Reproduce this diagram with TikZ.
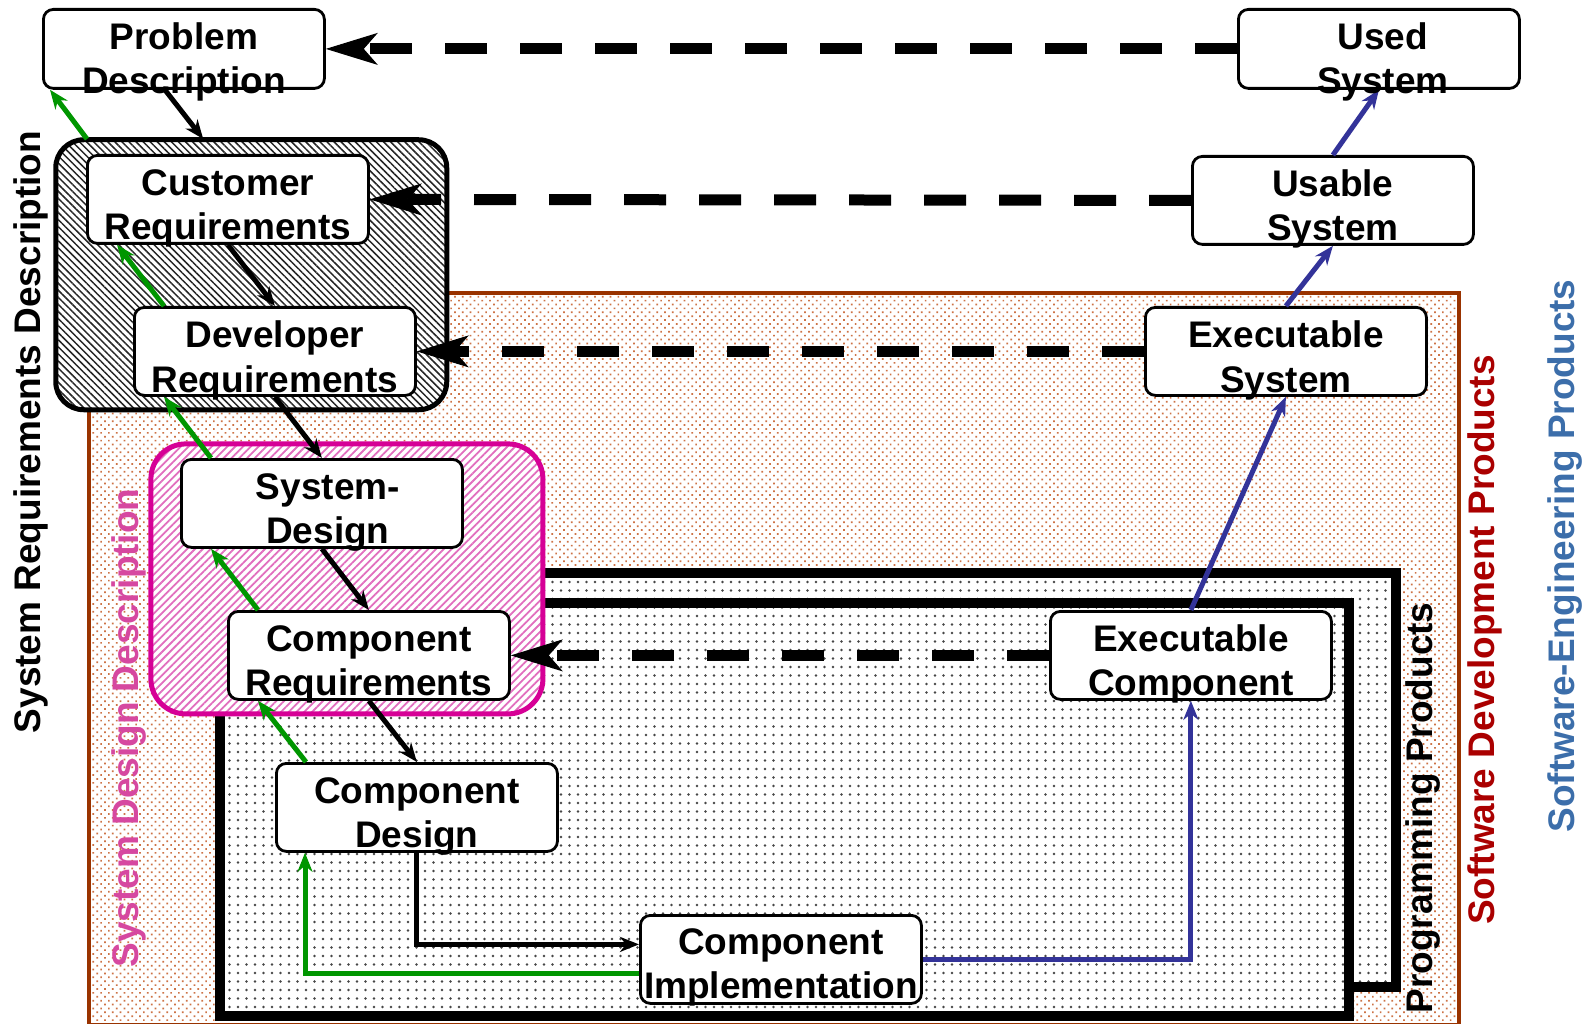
\documentclass[tikz,border=0pt]{standalone}
\usepackage{fontspec}
\setmainfont{Liberation Sans}
\usetikzlibrary{arrows.meta,patterns.meta,calc}
\definecolor{sbrown}{RGB}{153,51,0}
\definecolor{sdots}{RGB}{205,115,70}
\definecolor{smag}{RGB}{214,0,150}
\definecolor{shatch}{RGB}{225,110,190}
\definecolor{sgreen}{RGB}{0,150,0}
\definecolor{sblue}{RGB}{51,51,153}
\definecolor{sdlab}{RGB}{214,72,160}
\definecolor{sdred}{RGB}{170,0,0}
\definecolor{seblue}{RGB}{60,110,170}
\definecolor{sgdots}{RGB}{70,70,70}
\newcommand{\twol}[2]{\begin{tabular}[t]{@{}c@{}}#1\\#2\end{tabular}}
\begin{document}
\begin{tikzpicture}[x=1pt,y=-1pt,
  lbl/.style={font=\bfseries\fontsize{37}{44}\selectfont, inner sep=0pt},
  txt/.style={lbl, anchor=base},
  box/.style={draw, line width=2.8pt, rounded corners=10pt, fill=white,
    minimum width=281pt, minimum height=88pt, inner sep=0pt, anchor=north west},
  topbox/.style={box, minimum height=79pt},
  frame/.style={inner sep=0pt, anchor=north west, preaction={fill=white}},
  blk/.style={line width=5pt, -{Stealth[length=19pt,width=15pt,inset=6pt]}},
  grn/.style={blk, draw=sgreen},
  blu/.style={blk, draw=sblue},
  dasharrow/.style={line width=11pt, dash pattern=on 42pt off 33pt,
    -{Stealth[length=52pt,width=32pt,inset=14pt,line width=1pt]}},
]
\fill[white] (0,0) rectangle (1585,1024);
\path[use as bounding box] (0,0) rectangle (1585,1024);

% containers
\node[frame, draw=sbrown, line width=4pt, pattern={Dots[radius=1.2pt,distance=5.5pt,angle=45]},
  pattern color=sdots, minimum width=1370pt, minimum height=732pt] (sdp) at (87,291) {};
\node[frame, draw=black, line width=10pt, pattern={Dots[radius=1.4pt,distance=8.5pt]},
  pattern color=sgdots, minimum width=1129pt, minimum height=414pt] (ppb) at (262,568) {};
\node[frame, draw=black, line width=10pt, pattern={Dots[radius=1.4pt,distance=8.5pt]},
  pattern color=sgdots, minimum width=1129pt, minimum height=413pt] (pp) at (215,598) {};
\node[frame, draw=black, line width=5pt, rounded corners=28pt,
  pattern={Lines[angle=-45,distance=5pt,line width=1.5pt]}, pattern color=black!85,
  minimum width=391pt, minimum height=270pt] (srd) at (55,139) {};
\node[frame, draw=smag, line width=5pt, rounded corners=35pt,
  pattern={Lines[angle=45,distance=5.5pt,line width=1.8pt]}, pattern color=shatch,
  minimum width=392pt, minimum height=270pt] (sdd) at (150,443) {};

% boxes
\node[topbox] (pd) at (42,8) {};
\node[topbox] (us) at (1237,8) {};
\node[box] (uss) at (1191,155) {};
\node[box] (es) at (1144,306) {};
\node[box] (cr) at (86,154) {};
\node[box] (dr) at (133,306) {};
\node[box] (sd) at (180,458) {};
\node[box] (crq) at (227,610) {};
\node[box] (cd) at (275,762) {};
\node[box] (ci) at (639,914) {};
\node[box] (ec) at (1049,610) {};

% dashed arrows
\draw[dasharrow] (us.west) -- (pd.east);
\draw[dasharrow] (uss.west) -- (cr.east);
\draw[dasharrow] (es.west) -- (dr.east);
\draw[dasharrow] (ec.west) -- (crq.east);

% black arrows
\draw[blk] ([xshift=-19pt]pd.south) -- ([xshift=-48pt]srd.north);
\draw[blk] (cr.south) -- (dr.north);
\draw[blk] (dr.south) -- (sd.north);
\draw[blk] (sd.south) -- (crq.north);
\draw[blk] (crq.south) -- (cd.north);
\draw[blk] (cd.south) |- ([yshift=15pt]ci.west);

% green arrows
\draw[grn] ([xshift=32pt]srd.north west) -- ([xshift=8pt]pd.south west);
\draw[grn] ([xshift=31pt]dr.north west) -- ([xshift=31pt]cr.south west);
\draw[grn] ([xshift=31pt]sd.north west) -- ([xshift=31pt]dr.south west);
\draw[grn] ([xshift=31pt]crq.north west) -- ([xshift=31pt]sd.south west);
\draw[grn] ([xshift=31pt]cd.north west) -- ([xshift=31pt]crq.south west);
\draw[grn] ([yshift=-14pt]ci.west) -| ([xshift=30pt]cd.south west);

% blue arrows
\draw[blu] (ci.east) -| (ec.south);
\draw[blu] (ec.north) -- (es.south);
\draw[blu] (es.north) -- (uss.south);
\draw[blu] (uss.north) -- (us.south);

% box texts
\node[txt] (pdt) at ($(pd.north)+(0,42)$) {\twol{Problem}{Description}};
\node[txt] (ust) at ($(us.north)+(4,42)$) {\twol{Used}{System}};
\node[txt] (usst) at ($(uss.north)+(0,42)$) {\twol{Usable}{System}};
\node[txt] (est) at ($(es.north)+(0,42)$) {\twol{Executable}{System}};
\node[txt] (crt) at ($(cr.north)+(0,42)$) {\twol{Customer}{Requirements}};
\node[txt] (drt) at ($(dr.north)+(0,42)$) {\twol{Developer}{Requirements}};
\node[txt] (sdt) at ($(sd.north)+(6,41)$) {\twol{System-}{Design}};
\node[txt] (crqt) at ($(crq.north)+(0,41)$) {\twol{Component}{Requirements}};
\node[txt] (cdt) at ($(cd.north)+(0,41)$) {\twol{Component}{Design}};
\node[txt] (cit) at ($(ci.north)+(0,40)$) {\twol{Component}{Implementation}};
\node[txt] (ect) at ($(ec.north)+(0,41)$) {\twol{Executable}{Component}};

% side labels
\node[lbl, rotate=90] (srdl) at (31,432) {System Requirements Description};
\node[lbl, rotate=90, text=sdlab] (sddl) at (129,728) {System Design Description};
\node[lbl, rotate=90] (ppl) at (1423,808) {Programming Products};
\node[lbl, rotate=90, text=sdred] (sdpl) at (1485,640) {Software Development Products};
\node[lbl, rotate=90, text=seblue] (sepl) at (1565,556) {Software-Engineering Products};
\end{tikzpicture}
\end{document}
